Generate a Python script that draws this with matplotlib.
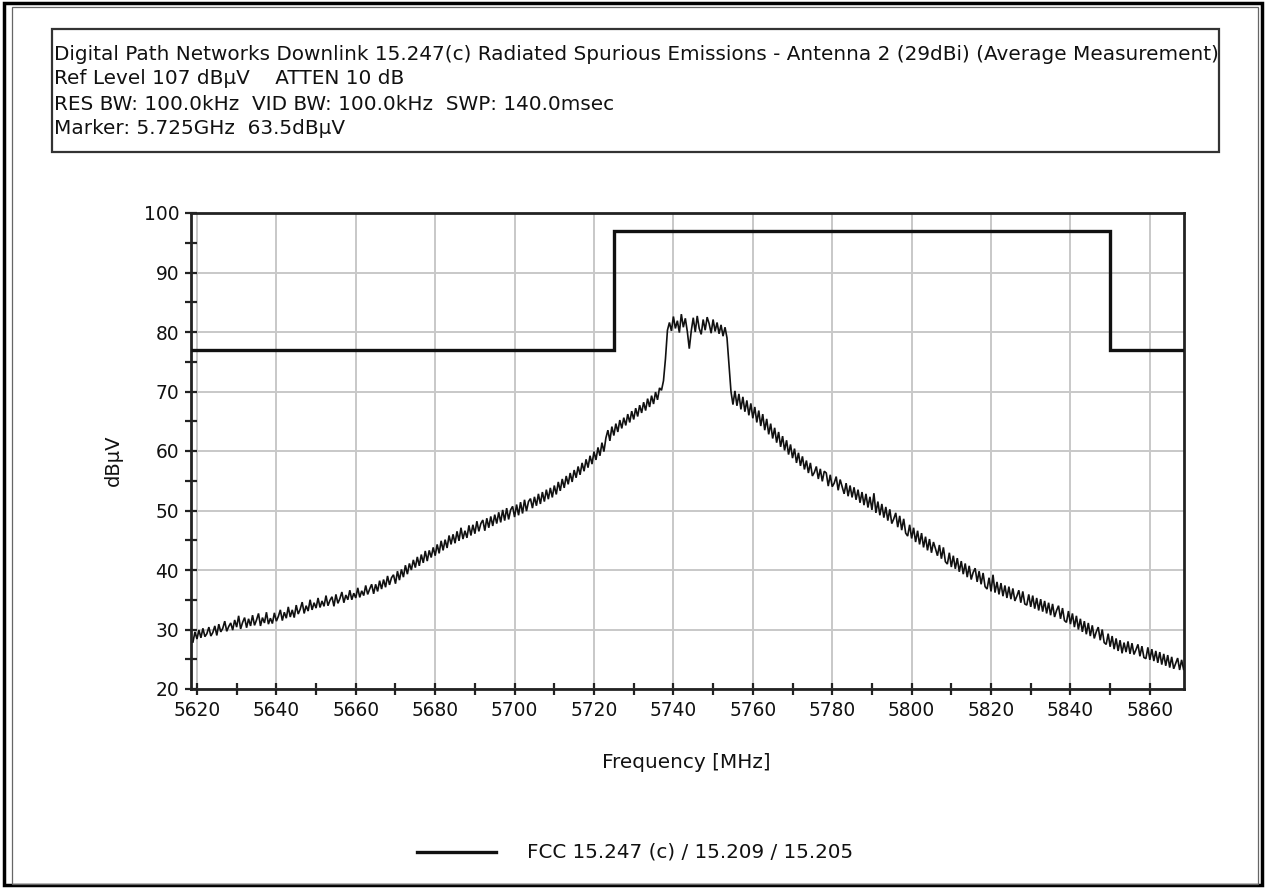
import matplotlib
matplotlib.use("Agg")
import matplotlib.pyplot as plt
from matplotlib.patches import Rectangle
from matplotlib.lines import Line2D
import numpy as np

# ---------------- data ----------------
header_lines = [
    "Digital Path Networks Downlink 15.247(c) Radiated Spurious Emissions - Antenna 2 (29dBi) (Average Measurement)",
    "Ref Level 107 dB\u00b5V    ATTEN 10 dB",
    "RES BW: 100.0kHz  VID BW: 100.0kHz  SWP: 140.0msec",
    "Marker: 5.725GHz  63.5dB\u00b5V",
]
x_label = "Frequency [MHz]"
y_label = "dB\u00b5V"
legend_label = "FCC 15.247 (c) / 15.209 / 15.205"

x_min, x_max = 5618.5, 5868.6
y_min, y_max = 20, 100
x_ticks_labeled = [5620, 5640, 5660, 5680, 5700, 5720, 5740, 5760, 5780, 5800, 5820, 5840, 5860]
y_ticks_labeled = [20, 30, 40, 50, 60, 70, 80, 90, 100]

# FCC limit mask (step): band edges and levels
limit_edges = [5618.5, 5725, 5850, 5868.6]
limit_levels = [77, 97, 77]

# measured trace, 0.5 MHz steps starting 5619 MHz
trace_start = 5619.0
trace_step = 0.5
trace_values = [
    27.9, 29.6, 28.4, 29.9, 28.6, 30.2, 28.8, 29.3, 30.4, 28.9,
    29.5, 30.6, 29.0, 30.9, 29.6, 30.2, 31.4, 29.7, 30.5, 31.1,
    29.9, 31.6, 30.4, 32.3, 30.1, 31.2, 32.0, 30.3, 31.8, 30.6,
    32.4, 30.7, 31.6, 32.7, 30.6, 32.0, 31.1, 32.9, 30.9, 31.9,
    31.0, 32.8, 31.4, 32.2, 33.3, 31.5, 32.9, 31.9, 33.8, 32.1,
    33.3, 32.0, 34.1, 32.6, 33.4, 34.6, 32.7, 34.0, 33.1, 35.0,
    33.3, 34.5, 33.6, 35.3, 33.7, 34.8, 33.9, 35.7, 34.0, 34.9,
    35.5, 33.9, 35.9, 34.4, 35.2, 36.3, 34.5, 35.8, 35.0, 36.6,
    35.0, 36.1, 35.3, 37.0, 35.4, 36.5, 35.7, 37.4, 35.9, 36.8,
    37.6, 36.0, 37.6, 36.4, 38.2, 36.8, 38.4, 37.1, 39.0, 37.5,
    38.7, 39.2, 37.7, 39.8, 38.3, 40.1, 38.8, 40.8, 39.3, 41.1,
    40.0, 41.7, 40.4, 42.2, 40.7, 42.6, 41.2, 43.2, 41.5, 43.3,
    42.1, 43.8, 42.4, 44.3, 42.8, 44.9, 43.3, 45.1, 43.7, 45.8,
    44.3, 46.0, 44.5, 46.5, 44.9, 47.1, 45.2, 46.6, 45.4, 47.5,
    45.8, 47.6, 46.1, 48.2, 46.5, 47.8, 48.4, 46.6, 48.7, 47.1,
    49.0, 47.4, 49.3, 47.8, 49.7, 48.0, 50.1, 48.3, 50.4, 48.5,
    50.1, 50.7, 48.9, 51.0, 49.2, 51.4, 49.5, 51.8, 49.9, 51.5,
    52.0, 50.4, 52.3, 50.8, 52.8, 51.1, 53.1, 51.5, 53.5, 51.9,
    53.8, 52.2, 54.2, 52.7, 54.8, 53.3, 55.3, 53.8, 55.8, 54.4,
    56.3, 54.8, 56.8, 55.5, 57.4, 56.0, 58.0, 56.6, 58.6, 57.2,
    59.2, 57.8, 59.9, 58.5, 60.6, 59.2, 61.4, 59.9, 62.2, 63.5,
    61.7, 64.1, 62.6, 64.6, 63.2, 65.2, 63.8, 65.6, 64.3, 66.2,
    64.8, 66.7, 65.3, 67.2, 65.8, 67.7, 66.4, 68.2, 66.8, 68.8,
    67.4, 69.3, 67.9, 69.9, 68.6, 70.6, 70.2, 71.8, 75.5, 80.3,
    81.6, 80.2, 82.6, 80.6, 81.9, 79.9, 83.0, 80.8, 82.3, 80.1,
    77.2, 80.2, 82.4, 80.0, 82.7, 80.6, 79.6, 82.1, 80.3, 82.5,
    81.4, 79.8, 82.1, 80.1, 81.6, 79.7, 81.2, 79.3, 80.8, 79.0,
    74.5, 70.0, 67.8, 70.1, 67.6, 69.6, 67.0, 69.1, 66.6, 68.5,
    66.0, 68.0, 65.5, 67.4, 64.8, 66.8, 64.2, 66.2, 63.5, 65.4,
    62.8, 64.6, 62.1, 63.9, 61.4, 63.2, 60.7, 62.5, 60.1, 61.8,
    59.4, 61.1, 58.8, 60.4, 58.0, 59.7, 57.5, 59.1, 56.9, 58.4,
    56.3, 58.0, 55.8, 56.4, 57.4, 55.3, 57.0, 54.9, 56.6, 56.3,
    54.1, 56.0, 54.0, 54.6, 55.7, 53.4, 55.2, 54.0, 52.8, 54.6,
    52.4, 54.2, 52.2, 53.9, 51.8, 53.5, 51.3, 53.1, 50.9, 52.8,
    50.5, 52.3, 50.1, 52.9, 49.6, 51.5, 49.2, 51.1, 48.8, 50.6,
    48.3, 50.2, 47.8, 48.6, 49.6, 47.2, 49.1, 46.7, 48.6, 46.2,
    45.7, 47.6, 45.3, 47.1, 44.7, 46.6, 44.3, 46.2, 43.8, 45.6,
    43.3, 45.2, 42.9, 44.7, 43.6, 42.4, 44.2, 41.9, 43.8, 41.4,
    41.0, 42.9, 40.5, 42.4, 40.2, 42.0, 39.7, 41.5, 39.3, 41.1,
    38.8, 40.7, 38.4, 39.6, 40.3, 38.0, 39.8, 37.6, 39.5, 37.2,
    36.8, 38.7, 36.4, 39.2, 36.2, 38.0, 35.9, 37.8, 35.6, 37.4,
    35.3, 37.2, 35.1, 36.9, 34.8, 35.6, 36.6, 34.5, 36.4, 34.3,
    34.1, 35.9, 33.8, 35.7, 33.5, 35.3, 33.2, 35.1, 33.0, 34.8,
    32.7, 34.5, 32.4, 34.3, 32.1, 33.2, 34.0, 31.8, 33.6, 31.5,
    31.2, 33.1, 30.9, 32.7, 30.4, 32.3, 30.0, 31.8, 29.6, 31.4,
    29.2, 31.1, 28.9, 30.7, 28.5, 29.6, 30.4, 28.2, 30.0, 27.8,
    27.5, 29.3, 27.1, 28.9, 26.7, 28.5, 26.4, 28.2, 26.0, 27.8,
    26.2, 28.0, 25.9, 27.7, 25.8, 26.6, 27.5, 25.5, 27.2, 25.3,
    25.1, 27.0, 24.9, 26.7, 24.7, 26.4, 24.4, 26.2, 24.1, 25.9,
    23.9, 25.7, 23.6, 25.4, 23.4, 24.3, 25.2, 23.2, 24.9, 23.3,
]
trace_freq = trace_start + trace_step * np.arange(len(trace_values))

# ---------------- figure ----------------
W, H = 1265, 890
plt.rcParams['font.family'] = ['DejaVu Sans']
fig = plt.figure(figsize=(W / 100, H / 100), dpi=100)
fig.patch.set_facecolor('white')


def fx(px):
    return px / W


def fy(py):
    return 1 - py / H


# outer borders
fig.add_artist(Rectangle((fx(4), fy(885)), fx(1262) - fx(4), fy(3) - fy(885),
                         transform=fig.transFigure, fill=False, ec='black', lw=2.5))
fig.add_artist(Rectangle((fx(12), fy(884)), fx(1258) - fx(12), fy(7) - fy(884),
                         transform=fig.transFigure, fill=False, ec='#666666', lw=0.9))

# header box
fig.add_artist(Rectangle((fx(52), fy(152)), fx(1219) - fx(52), fy(29) - fy(152),
                         transform=fig.transFigure, fill=False, ec='#333333', lw=1.6))
for i, line in enumerate(header_lines):
    fig.text(fx(54), fy(54 + 25 * i), line, fontsize=14.4, ha='left', va='center', color='#111111')

# axes
ax = fig.add_axes([fx(191), fy(689), fx(1184) - fx(191), fy(213) - fy(689)])
ax.set_xlim(x_min, x_max)
ax.set_ylim(y_min, y_max)
ax.set_xticks(x_ticks_labeled)
ax.set_xticks(np.arange(5630, 5870, 20), minor=True)
ax.set_yticks(y_ticks_labeled)
ax.set_yticks(np.arange(25, 100, 10), minor=True)
ax.set_xticklabels([str(v) for v in x_ticks_labeled])
ax.set_yticklabels([str(v) for v in y_ticks_labeled])
ax.tick_params(axis='both', which='both', direction='inout', length=9, width=1.6,
               labelsize=13.4, color='#222222', labelcolor='#111111')
ax.tick_params(axis='x', pad=4)
ax.tick_params(axis='y', pad=4)
ax.grid(True, which='major', color='#c8c8c8', lw=1.4)
ax.set_axisbelow(True)
for s in ax.spines.values():
    s.set_linewidth(2.0)
    s.set_color('#222222')

ax.plot(trace_freq, trace_values, color='#111111', lw=1.2, solid_joinstyle='miter', zorder=3)
ax.stairs(limit_levels, limit_edges, baseline=None, color='#111111', lw=2.4, zorder=4)

fig.text(fx(686), fy(762), x_label, fontsize=14.4, ha='center', va='center', color='#111111')
fig.text(fx(113), fy(460), y_label, fontsize=14.0, ha='center', va='center', rotation=90, color='#111111')

# legend
fig.add_artist(Line2D([fx(417), fx(496)], [fy(852), fy(852)], transform=fig.transFigure,
                      color='#111111', lw=2.4))
fig.text(fx(527), fy(852), legend_label, fontsize=14.3, ha='left', va='center', color='#111111')

fig.savefig('out.png', dpi=100, facecolor='white')
